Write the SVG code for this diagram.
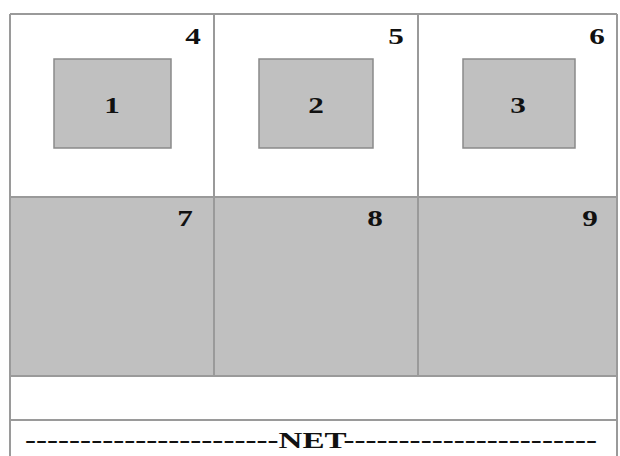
<svg xmlns="http://www.w3.org/2000/svg" width="620" height="456" viewBox="0 0 620 456">
<style>
.ln{stroke:#9a9a9a;stroke-width:2;fill:none}
.cell{fill:#c0c0c0;stroke:#8a8a8a;stroke-width:1.5}
.num{font-family:"Liberation Serif","Times New Roman",serif;font-weight:bold;font-size:24px;fill:#111;text-anchor:middle}
</style>
<rect x="0" y="0" width="620" height="456" fill="#fff"/>
<rect x="10" y="197" width="607" height="179" fill="#c0c0c0"/>
<g id="grid">
<path class="ln" d="M10 14H617M10 197H617M10 376H617M10 420H617M10 14V456M617 14V456M214 14V376M418 14V376"/>
</g>
<g id="node1"><rect class="cell" x="54" y="59" width="117" height="89"/><text class="num" transform="translate(112,113) scale(1.3,1)">1</text></g>
<g id="node2"><rect class="cell" x="259" y="59" width="114" height="89"/><text class="num" transform="translate(316,113) scale(1.3,1)">2</text></g>
<g id="node3"><rect class="cell" x="463" y="59" width="112" height="89"/><text class="num" transform="translate(518,113) scale(1.3,1)">3</text></g>
<g id="node4"><text class="num" transform="translate(193,44) scale(1.3,1)">4</text></g>
<g id="node5"><text class="num" transform="translate(396,44) scale(1.3,1)">5</text></g>
<g id="node6"><text class="num" transform="translate(597,44) scale(1.3,1)">6</text></g>
<g id="node7"><text class="num" transform="translate(185,226) scale(1.3,1)">7</text></g>
<g id="node8"><text class="num" transform="translate(375,226) scale(1.3,1)">8</text></g>
<g id="node9"><text class="num" transform="translate(590,226) scale(1.3,1)">9</text></g>
<g id="net"><text font-family="'Liberation Serif','Times New Roman',serif" font-weight="bold" font-size="24" fill="#111" x="25" y="448" textLength="572" lengthAdjust="spacingAndGlyphs">-----------------------NET-----------------------</text></g>
</svg>
